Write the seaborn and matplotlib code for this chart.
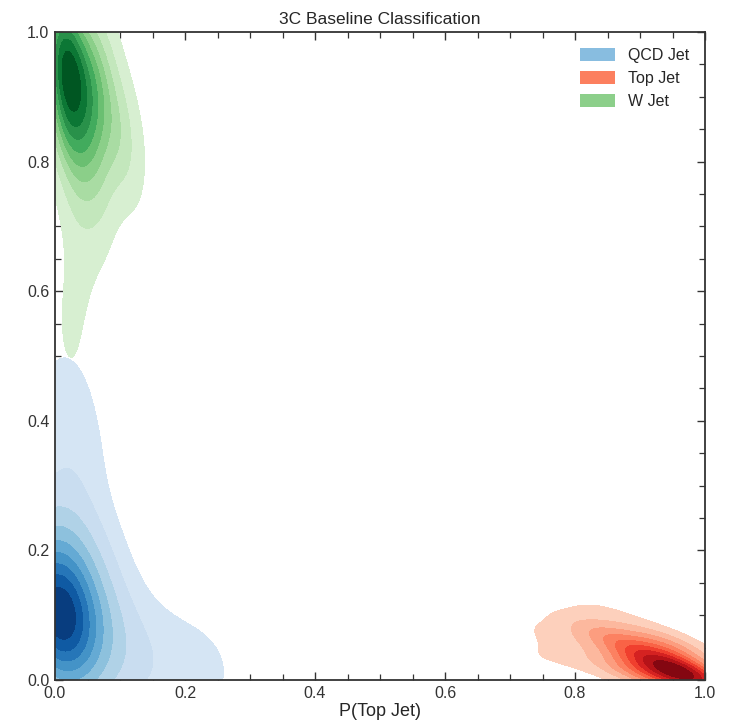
import numpy as np
import pandas as pd
import seaborn as sns
import matplotlib
matplotlib.use("Agg")
import matplotlib.pyplot as plt
from matplotlib.patches import Patch
from matplotlib.colors import ListedColormap
from matplotlib.ticker import MultipleLocator

# Representative (weighted) classifier outputs
qcd_x = [0.00, 0.00, 0.00, 0.03, 0.00, 0.00, 0.05, 0.04, 0.08, 0.01, 0.06, 0.12,
         0.16, 0.20, 0.24, 0.02, 0.03, 0.02, 0.02, 0.10, 0.27]
qcd_y = [0.10, 0.07, 0.13, 0.10, 0.04, 0.17, 0.04, 0.16, 0.08, 0.22, 0.22, 0.03,
         0.03, 0.025, 0.02, 0.30, 0.36, 0.42, 0.49, 0.14, 0.02]
qcd_w = [12, 8, 8, 7, 4, 4, 4, 4, 3, 3, 0.8, 2,
         1.0, 0.9, 0.6, 1.4, 1.0, 0.9, 0.6, 0.3, 0.35]

top_x = [0.97, 0.99, 0.94, 0.91, 0.88, 0.85, 0.82, 0.79, 0.75, 0.93, 0.96, 0.90,
         0.85, 0.81, 0.95, 0.88, 0.72, 0.77]
top_y = [0.01, 0.00, 0.02, 0.04, 0.05, 0.07, 0.08, 0.06, 0.04, 0.06, 0.04, 0.01,
         0.10, 0.03, 0.00, 0.02, 0.03, 0.07]
top_w = [12, 6, 9, 6, 4, 3, 1.5, 1, 0.6, 4, 4, 4,
         1.4, 1.0, 5, 3, 0.6, 0.7]

w_x = [0.02, 0.01, 0.05, 0.02, 0.06, 0.03, 0.09, 0.05, 0.10, 0.07, 0.12, 0.03,
       0.06, 0.04, 0.03, 0.02, 0.01, 0.07, 0.02, 0.02]
w_y = [0.95, 0.98, 0.93, 0.90, 0.88, 0.85, 0.87, 0.81, 0.83, 0.78, 0.81, 0.76,
       0.71, 0.65, 0.59, 0.53, 0.88, 0.96, 0.49, 0.96]
w_w = [12, 6, 8, 7, 6, 6, 3.5, 4, 2.5, 2, 1.2, 2,
       1.2, 1.0, 0.9, 0.7, 4, 3, 0.5, 5]

labels = ["QCD Jet", "Top Jet", "W Jet"]
cmap_names = ["Blues", "Reds", "Greens"]
legend_colors = ["#88bde0", "#fc7f5f", "#8ccf8a"]

sns.set_theme(style="white")
plt.rcParams["font.family"] = ["Liberation Sans", "DejaVu Sans"]
plt.rcParams.update({
    "xtick.direction": "in", "ytick.direction": "in",
    "xtick.top": True, "ytick.right": True,
    "xtick.bottom": True, "ytick.left": True,
    "xtick.major.size": 6, "ytick.major.size": 6,
    "xtick.minor.size": 4, "ytick.minor.size": 4,
    "xtick.major.width": 1.0, "ytick.major.width": 1.0,
    "xtick.minor.width": 0.9, "ytick.minor.width": 0.9,
    "xtick.color": ".2", "ytick.color": ".2",
    "axes.edgecolor": ".2", "axes.linewidth": 1.3,
})

fig = plt.figure(figsize=(7.35, 7.22), dpi=100)
ax = fig.add_axes([55/735, 1-680/722, 650/735, 648/722])

datasets = [
    pd.DataFrame({"x": qcd_x, "y": qcd_y, "w": qcd_w}),
    pd.DataFrame({"x": top_x, "y": top_y, "w": top_w}),
    pd.DataFrame({"x": w_x, "y": w_y, "w": w_w}),
]
for df, name in zip(datasets, cmap_names):
    base = plt.get_cmap(name)
    cm = ListedColormap(base(np.linspace(0.15, 1.0, 256)))
    sns.kdeplot(data=df, x="x", y="y", weights="w", fill=True, cmap=cm,
                levels=10, thresh=0.05, bw_adjust=1.1, ax=ax)

ax.set_xlim(0, 1)
ax.set_ylim(0, 1)
ax.xaxis.set_major_locator(MultipleLocator(0.2))
ax.yaxis.set_major_locator(MultipleLocator(0.2))
ax.xaxis.set_minor_locator(MultipleLocator(0.05))
ax.yaxis.set_minor_locator(MultipleLocator(0.05))
ax.tick_params(labelsize=11.5, pad=4)
ax.set_xlabel("P(Top Jet)", fontsize=13, labelpad=2)
ax.set_ylabel("")
ax.set_title("3C Baseline Classification", fontsize=12.5, pad=6)

handles = [Patch(facecolor=c, edgecolor="none", label=l) for c, l in zip(legend_colors, labels)]
ax.legend(handles=handles, loc="upper right", frameon=False, fontsize=11.5,
          handlelength=2.2, handleheight=0.9, borderaxespad=0.6)

fig.savefig("out.png", dpi=100)
